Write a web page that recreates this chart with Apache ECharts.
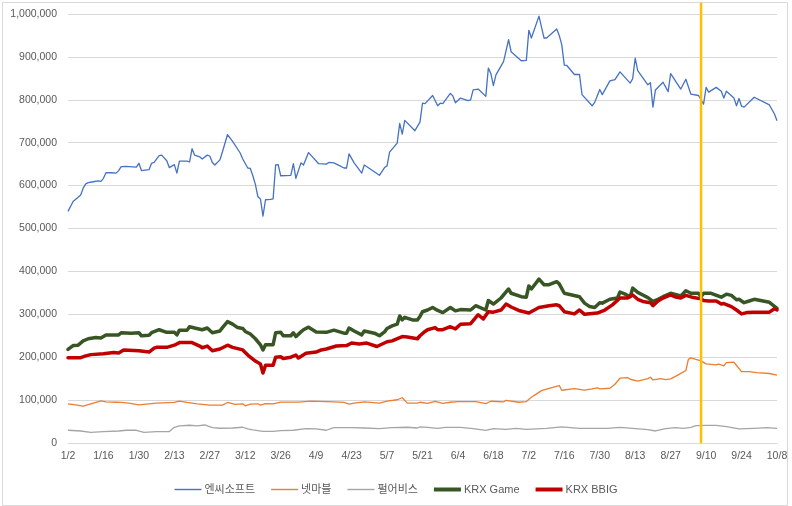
<!DOCTYPE html>
<html>
<head>
<meta charset="utf-8">
<script src="https://cdn.jsdelivr.net/npm/echarts@6/dist/echarts.min.js"></script>
<style>html,body{margin:0;padding:0;background:#fff}#c{width:792px;height:506px}</style>
</head>
<body>
<div id="c"></div>
<script>
// x values are calendar-day offsets from 2020-01-02
const baseDate = Date.UTC(2020, 0, 2);
const axisStartDay = 0;      // 1/2
const axisEndDay = 280;      // 10/8
const tickStepDays = 14;
const markDay = 250;         // 2020-09-08 highlight

const seriesNames = ['엔씨소프트', '넷마블', '펄어비스', 'KRX Game', 'KRX BBIG'];

const ncDay = [0,2,4,5,6,7,8,10,12,13,14,15,17,19,20,21,23,27,28,29,32,33,34,36,37,39,40,42,43,44,47,48,49,50,52,53,55,56,57,58,60,61,63,65,68,69,71,72,73,74,75,76,77,78,80,81,82,83,84,88,89,90,92,93,95,99,102,103,105,107,109,110,111,113,116,117,123,125,126,127,130,131,132,133,137,139,140,141,144,146,147,148,151,152,153,155,158,159,160,162,165,166,167,168,169,172,174,175,179,181,182,183,186,188,189,193,194,195,196,197,200,202,203,207,208,209,210,211,214,216,218,222,223,224,225,229,230,231,232,235,237,238,242,244,246,249,251,252,253,256,258,259,260,263,264,265,266,267,271,277,279,280];
const ncVal = [540000,563000,573000,578000,594000,604000,607000,609000,611000,610000,617000,630000,630000,629000,635000,644000,645000,643000,652000,635000,637000,652000,654000,670000,671000,658000,642000,649000,629000,657000,657000,655000,686000,671000,667000,662000,671000,669000,654000,648000,660000,679000,719000,703000,676000,662000,641000,640000,623000,603000,574000,569000,529000,567000,568000,569000,648000,649000,623000,624000,651000,617000,653000,648000,677000,651000,650000,654000,653000,647000,641000,641000,674000,653000,629000,648000,624000,642000,646000,678000,699000,745000,720000,752000,728000,748000,792000,791000,810000,786000,792000,791000,815000,809000,793000,804000,798000,800000,823000,825000,808000,874000,861000,833000,858000,889000,940000,912000,891000,892000,962000,944000,995000,944000,944000,965000,950000,928000,881000,880000,859000,859000,812000,786000,794000,809000,824000,812000,844000,847000,865000,839000,849000,897000,868000,835000,840000,783000,823000,841000,819000,861000,825000,848000,813000,810000,790000,829000,818000,829000,820000,804000,820000,804000,786000,803000,785000,783000,806000,788000,767000,751000];

const nmDay = [0,3,6,9,13,15,19,21,24,28,35,42,44,47,51,56,61,63,66,69,70,72,75,76,78,81,84,91,96,105,109,111,113,117,123,126,130,132,134,138,139,142,145,148,151,154,161,165,167,172,173,178,181,182,184,187,190,194,195,200,204,207,209,210,214,216,218,221,222,225,229,230,231,234,236,238,241,244,245,246,250,252,256,257,259,260,263,266,269,272,277,280];
const nmVal = [91000,89000,86000,91000,98000,96000,95000,94500,93000,89000,93000,94500,97700,94500,91400,88300,88300,94500,90000,91400,86700,90600,91400,88300,92000,91400,95300,95300,97700,96000,94500,90600,93000,96000,93000,97700,100800,105500,93000,93000,95000,92600,97300,92600,95000,96500,96500,91800,97300,95700,99600,95000,96500,102000,110500,122000,127600,134000,123000,126800,123000,126000,128400,126000,127600,137000,151000,152500,148600,144000,150000,153300,147000,150000,147900,149400,158800,169000,195000,198400,191400,184400,182000,183700,179800,187500,188300,166500,166500,164000,162000,158000];

const paDay = [0,5,9,14,20,23,27,30,35,40,42,44,48,51,54,57,60,65,69,71,73,77,81,84,89,94,98,102,105,112,117,123,128,134,138,139,142,146,149,155,160,165,168,173,177,181,189,195,202,213,218,223,229,232,236,240,243,246,248,252,256,260,265,271,276,280];
const paVal = [29700,28000,25000,26600,28000,29700,29700,25000,26600,26600,36700,39800,41400,39800,42000,36000,34400,35000,36700,32800,30500,27300,27300,28900,29700,33600,32800,29700,36000,36000,35000,33600,36000,36700,35000,37400,36600,34200,36600,36600,33500,29600,33500,31900,34200,31900,34200,37400,34200,34200,36600,34200,31100,28000,33500,35800,34200,36600,40500,41200,41200,38100,32700,34200,35800,34200];

const gameDay = [0,2,4,6,8,11,13,15,20,21,25,28,29,32,33,36,39,42,43,44,47,48,50,53,55,57,60,61,63,65,67,69,70,72,74,76,77,78,81,82,84,85,88,89,90,92,93,95,98,102,105,109,110,111,113,116,117,121,123,125,126,128,130,131,132,133,136,138,139,140,142,144,146,148,151,153,155,159,161,165,166,168,171,174,175,179,181,182,183,186,188,190,193,194,196,199,202,204,206,208,210,211,214,217,218,220,222,223,225,227,229,231,233,235,238,242,244,246,249,250,251,254,258,260,262,264,265,267,269,271,277,280];
const gameVal = [218000,227000,228000,238000,243000,246000,245000,252000,252000,257000,256000,257000,250000,251000,257000,264000,258000,258000,252000,263000,263000,271000,268000,264000,268000,257000,261000,269000,283000,277000,269000,267000,260000,254000,243000,229000,217000,229000,229000,257000,258000,250000,250000,257000,248000,259000,264000,270000,259000,258000,263000,256000,256000,268000,261000,252000,261000,256000,250000,259000,267000,273000,277000,296000,287000,293000,287000,287000,295000,306000,310000,316000,309000,304000,316000,308000,311000,310000,320000,310000,332000,324000,338000,359000,349000,341000,340000,366000,359000,382000,369000,369000,376000,371000,349000,345000,341000,326000,318000,316000,327000,326000,335000,338000,352000,347000,341000,361000,351000,345000,339000,330000,335000,341000,349000,343000,355000,349000,349000,341000,349000,349000,340000,347000,344000,334000,335000,327000,331000,335000,328000,314000];

const bbigDay = [0,5,7,9,14,18,20,22,28,32,34,35,39,42,44,49,52,53,55,57,60,63,65,69,71,74,76,77,78,81,82,84,85,88,90,91,94,98,100,102,106,110,112,115,118,122,126,128,132,134,138,139,141,142,145,146,148,151,153,155,159,162,164,166,168,171,173,175,178,182,186,190,193,194,196,200,202,204,209,212,215,218,221,223,225,227,230,231,233,235,238,240,242,244,247,250,251,253,256,258,259,262,264,266,268,271,277,279,280];
const bbigVal = [199000,199000,203000,206000,208000,211000,210000,217000,215000,212000,221000,223000,223000,228000,234000,234000,226000,222000,226000,215000,219000,228000,223000,217000,205000,191000,184000,163000,181000,181000,200000,201000,197000,200000,205000,198000,209000,212000,217000,219000,226000,227000,233000,231000,233000,225000,236000,238000,248000,247000,243000,250000,260000,264000,269000,264000,264000,271000,266000,277000,278000,299000,289000,306000,305000,310000,324000,317000,309000,303000,316000,320000,322000,320000,306000,301000,310000,300000,303000,310000,322000,338000,338000,345000,335000,330000,327000,320000,331000,338000,345000,340000,338000,344000,339000,336000,332000,331000,331000,324000,325000,318000,310000,301000,304000,305000,305000,313000,310000];

const yMin = 0, yMax = 1000000, yStep = 100000;
const markTop = 1026000;

function pairs(xs, ys) { return xs.map((x, i) => [x, ys[i]]); }
function dayLabel(v) {
  const d = new Date(baseDate + v * 86400000);
  return (d.getUTCMonth() + 1) + '/' + d.getUTCDate();
}

const font = '"Liberation Sans", "Noto Sans CJK KR", sans-serif';
const chart = echarts.init(document.getElementById('c'), null, { renderer: 'canvas' });
const thin = (name, xs, ys, color) => ({
  name, type: 'line', data: pairs(xs, ys), showSymbol: false, symbol: 'none',
  lineStyle: { color, width: 1.3, join: 'round' }, itemStyle: { color }, animation: false
});
const thick = (name, xs, ys, color) => ({
  name, type: 'line', data: pairs(xs, ys), showSymbol: false, symbol: 'none',
  lineStyle: { color, width: 3.5, join: 'round', cap: 'round' }, itemStyle: { color }, animation: false
});

const thinIcon = 'path://M0 0H27V1.4H0Z';
const thickIcon = 'path://M0 0H27V4H0Z';

chart.setOption({
  animation: false,
  backgroundColor: '#fff',
  textStyle: { fontFamily: font },
  grid: { left: 68, right: 15, top: 14, bottom: 63, containLabel: false },
  xAxis: {
    type: 'value', min: axisStartDay, max: axisEndDay, interval: tickStepDays,
    axisLine: { show: true, lineStyle: { color: '#D9D9D9', width: 1 } },
    axisTick: { show: false },
    splitLine: { show: false },
    axisLabel: { formatter: dayLabel, color: '#595959', fontSize: 10.5, fontFamily: font, margin: 8,
      showMinLabel: true, showMaxLabel: true }
  },
  yAxis: {
    type: 'value', min: yMin, max: yMax, interval: yStep,
    axisLine: { show: false }, axisTick: { show: false },
    splitLine: { lineStyle: { color: '#D9D9D9', width: 1 } },
    axisLabel: { formatter: v => v.toLocaleString('en-US'), color: '#595959', fontSize: 10.5, fontFamily: font, margin: 11 }
  },
  legend: {
    data: seriesNames.map((n, i) => ({ name: n, icon: i < 3 ? thinIcon : thickIcon })),
    symbolKeepAspect: true,
    top: 479, left: 'center', itemWidth: 27, itemHeight: 14, itemGap: 16,
    textStyle: { color: '#595959', fontSize: 11, fontFamily: font, padding: [0, 0, 0, -2] }
  },
  series: [
    thin(seriesNames[0], ncDay, ncVal, '#4472C4'),
    thin(seriesNames[1], nmDay, nmVal, '#ED7D31'),
    thin(seriesNames[2], paDay, paVal, '#A5A5A5'),
    thick(seriesNames[3], gameDay, gameVal, '#375623'),
    thick(seriesNames[4], bbigDay, bbigVal, '#C00000')
  ]
});

// highlight line at markDay, positioned through the chart's own scales
const pBottom = chart.convertToPixel({ gridIndex: 0 }, [markDay, yMin]);
const pTop = chart.convertToPixel({ gridIndex: 0 }, [markDay, markTop]);
chart.setOption({
  graphic: [
    {
      type: 'rect', left: 0, top: 0, silent: true, z: -1,
      shape: { x: 0, y: 0, width: 785, height: 503 },
      style: { fill: 'none', stroke: '#D9D9D9', lineWidth: 1 }
    },
    {
      type: 'line', silent: true, z: 100,
      shape: { x1: pBottom[0], y1: pBottom[1], x2: pTop[0], y2: pTop[1] },
      style: { stroke: '#FFC000', lineWidth: 2.5 }
    }
  ]
});
</script>
</body>
</html>
